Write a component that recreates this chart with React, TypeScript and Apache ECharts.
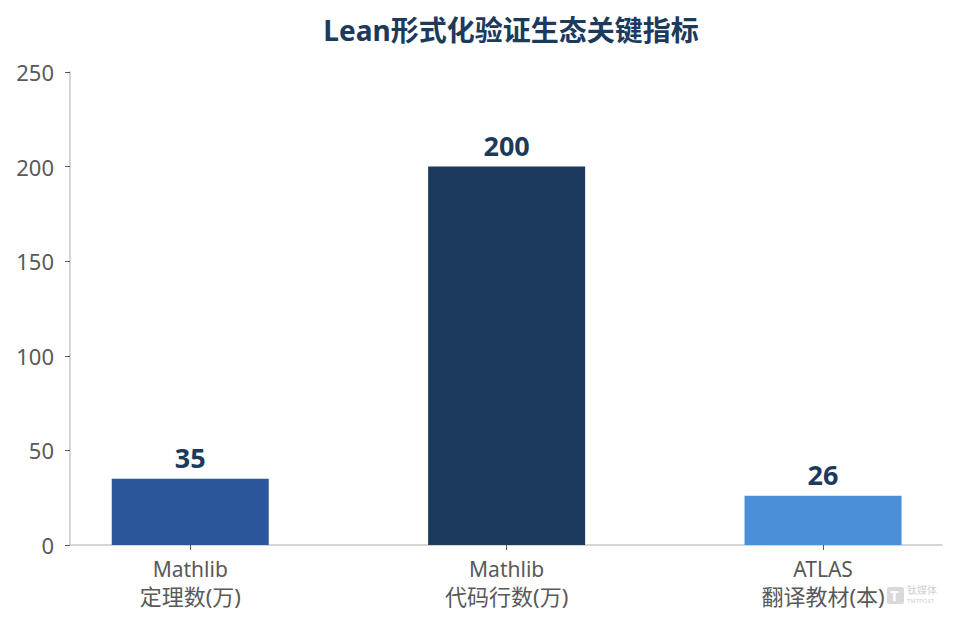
import React, { useEffect, useRef } from "react";
import * as echarts from "echarts";

const categoryNames = ["Mathlib", "Mathlib", "ATLAS"];
const categorySubs = ["定理数(万)", "代码行数(万)", "翻译教材(本)"];
const values = [35, 200, 26];
const barColors = ["#2b579a", "#1b3a5c", "#4a90d9"];
const positions = [0, 1, 2];

const FONT = "'Noto Sans', 'Noto Sans CJK SC', sans-serif";

export default function App() {
  const ref = useRef<HTMLDivElement>(null);
  useEffect(() => {
    document.body.style.margin = "0";
    const chart = echarts.init(ref.current!, null, { renderer: "svg" });
    chart.setOption({
      animation: false,
      backgroundColor: "#ffffff",
      textStyle: { fontFamily: FONT },
      title: {
        text: "Lean形式化验证生态关键指标",
        left: 506,
        textAlign: "center",
        top: 11,
        textStyle: { fontSize: 28, fontWeight: "bold", color: "#1b3a5c", fontFamily: FONT },
      },
      grid: { left: 70, right: 16, top: 72, bottom: 80 },
      xAxis: {
        type: "value",
        min: -0.38,
        max: 2.376,
        splitLine: { show: false },
        axisLine: { show: true, onZero: false, lineStyle: { color: "#c8c8c8", width: 1.5 } },
        axisTick: { show: true, customValues: positions, length: 5, lineStyle: { color: "#555" } },
        axisLabel: {
          customValues: positions,
          formatter: (v: number) => {
            const i = Math.round(v);
            return `{a|${categoryNames[i]}}\n{b|${categorySubs[i]}}`;
          },
          margin: 10,
          rich: {
            a: { fontSize: 21, lineHeight: 27, color: "#595959", fontFamily: FONT },
            b: { fontSize: 22, lineHeight: 27, color: "#595959", fontFamily: FONT },
          },
        },
      },
      yAxis: {
        type: "value",
        min: 0,
        max: 250,
        interval: 50,
        splitLine: { show: false },
        axisLine: { show: true, onZero: false, lineStyle: { color: "#c8c8c8", width: 1.5 } },
        axisTick: { show: true, length: 5, lineStyle: { color: "#555" } },
        axisLabel: {
          fontSize: 22,
          color: "#595959",
          margin: 16,
          fontFamily: FONT,
        },
      },
      series: [
        {
          type: "bar",
          barWidth: 157,
          data: values.map((v, i) => ({
            value: [positions[i], v],
            itemStyle: { color: barColors[i] },
          })),
          label: {
            show: true,
            position: "top",
            distance: 8,
            formatter: (p: any) => String(p.value[1]),
            fontSize: 27,
            fontWeight: "bold",
            color: "#1b3a5c",
            fontFamily: FONT,
          },
        },
      ],
      graphic: [
        {
          type: "rect",
          left: 887,
          top: 587,
          shape: { width: 17, height: 17, r: 2 },
          style: { fill: "#d9d9d9" },
        },
        {
          type: "text",
          left: 890,
          top: 587,
          style: { text: "T", fontSize: 15, fontWeight: "bold", fill: "#ffffff", fontFamily: FONT },
        },
        {
          type: "text",
          left: 907,
          top: 585,
          style: { text: "钛媒体", fontSize: 10, fill: "#cfcfcf", fontFamily: FONT },
        },
        {
          type: "text",
          left: 907,
          top: 598,
          style: { text: "TMTPOST", fontSize: 6, fill: "#cfcfcf", fontFamily: FONT },
        },
      ],
    });
    return () => chart.dispose();
  }, []);
  return <div ref={ref} style={{ width: 958, height: 625 }} />;
}
